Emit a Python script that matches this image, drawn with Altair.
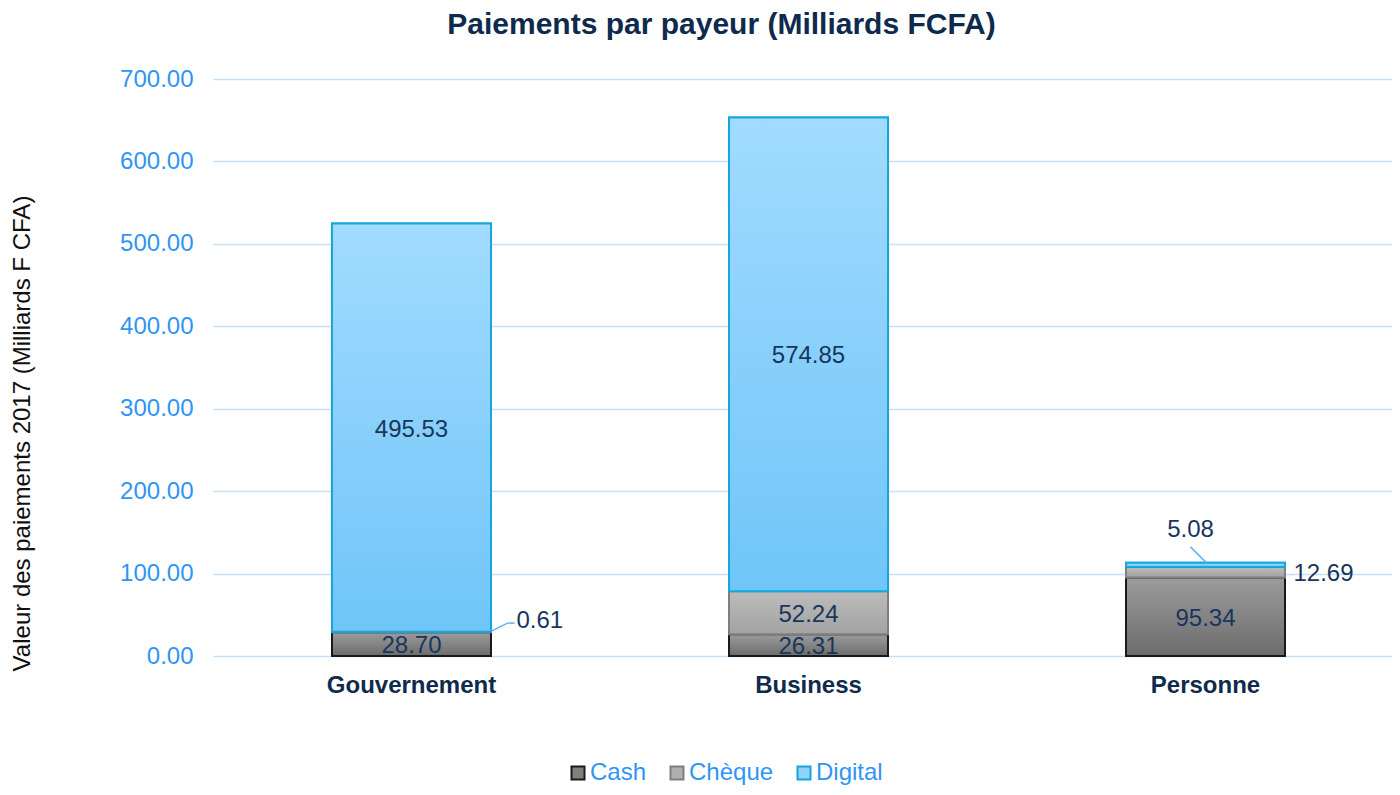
import altair as alt
import pandas as pd

payeurs = ["Gouvernement", "Business", "Personne"]
series = ["Cash", "Chèque", "Digital"]
cash = [28.70, 26.31, 95.34]
cheque = [0.61, 52.24, 12.69]
digital = [495.53, 574.85, 5.08]

rows = []
for i, p in enumerate(payeurs):
    for j, (s, vals) in enumerate(zip(series, [cash, cheque, digital])):
        rows.append({"payeur": p, "serie": s, "ordre": j, "valeur": vals[i]})
df = pd.DataFrame(rows)

LABEL = "#17365d"
NAVY = "#0e2a4c"
AXIS_BLUE = "#2f95f5"
GRID = "#c4e0f8"
FONT = "Liberation Sans"

fills = {
    "Cash": ("#9c9c9c", "#6c6c6c"),
    "Chèque": ("#bcbcbc", "#a2a2a2"),
    "Digital": ("#a2dbff", "#6fc5f8"),
}
strokes = {"Cash": "#1a1a1a", "Chèque": "#7f7f7f", "Digital": "#13a6df"}
flat = {"Cash": "#7f7f7f", "Chèque": "#b0b0b0", "Digital": "#8fd3fb"}

x_enc = alt.X("payeur:N", sort=payeurs, title=None,
              axis=alt.Axis(labelAngle=0, labelFontWeight="bold", labelFontSize=24,
                            labelColor=NAVY, labelPadding=17, domain=False, ticks=False,
                            labelFont=FONT),
              scale=alt.Scale(paddingInner=0, paddingOuter=0, range=[0, 1191]))
y_enc_axis = alt.Axis(format=".2f", values=[0, 100, 200, 300, 400, 500, 600, 700],
                      labelColor=AXIS_BLUE, labelFontSize=24, labelFont=FONT,
                      labelPadding=20, domain=False, ticks=False, gridColor=GRID, gridWidth=1.5,
                      title="Valeur des paiements 2017 (Milliards F CFA)",
                      titleFont=FONT, titleFontSize=24, titleFontWeight="normal",
                      titleColor="#111111", titleAngle=-90, titleAlign="center",
                      titleBaseline="middle", titleX=-191, titleY=354)

base = alt.Chart(df).transform_stack(
    stack="valeur", groupby=["payeur"], as_=["y0", "y1"],
    sort=[alt.SortField("ordre", order="ascending")]
).transform_calculate(mid="(datum.y0 + datum.y1) / 2")

legend_layer = base.mark_bar(size=159, strokeWidth=2).encode(
    x=x_enc,
    y=alt.Y("y1:Q", scale=alt.Scale(domain=[0, 700]), axis=y_enc_axis),
    y2="y0:Q",
    color=alt.Color("serie:N", sort=series, scale=alt.Scale(domain=series, range=[flat[s] for s in series]),
                    legend=alt.Legend(title=None, orient="none", direction="horizontal",
                                      legendX=353, legendY=682, symbolType="square", symbolSize=169,
                                      symbolStrokeWidth=2, labelFontSize=24, labelColor=AXIS_BLUE,
                                      labelFont=FONT, columnPadding=18, labelOffset=0)),
    stroke=alt.Stroke("serie:N", sort=series, scale=alt.Scale(domain=series, range=[strokes[s] for s in series]),
                      legend=None),
)

grad_layers = []
for s in series:
    top, bot = fills[s]
    g = alt.Gradient(gradient="linear", x1=0, x2=0, y1=0, y2=1,
                     stops=[alt.GradientStop(color=top, offset=0), alt.GradientStop(color=bot, offset=1)])
    grad_layers.append(
        base.transform_filter(alt.datum.serie == s).mark_bar(
            size=159, fill=g, stroke=strokes[s], strokeWidth=2
        ).encode(x=alt.X("payeur:N", sort=payeurs), y="y1:Q", y2="y0:Q")
    )

inside = base.transform_filter(alt.datum.valeur >= 20).mark_text(
    fontSize=24, color=LABEL, font=FONT, dy=2
).encode(x=alt.X("payeur:N", sort=payeurs), y="mid:Q", text=alt.Text("valeur:Q", format=".2f"))

def outside(p, s, dx, dy, align):
    return base.transform_filter((alt.datum.payeur == p) & (alt.datum.serie == s)).mark_text(
        fontSize=24, color=LABEL, font=FONT, dx=dx, dy=dy, align=align, baseline="middle"
    ).encode(x=alt.X("payeur:N", sort=payeurs), y="mid:Q", text=alt.Text("valeur:Q", format=".2f"))

def leader(p, s, x1, y1, x2, y2):
    return base.transform_filter((alt.datum.payeur == p) & (alt.datum.serie == s)).mark_rule(
        color="#5ab4f0", strokeWidth=1.5, xOffset=x1, yOffset=y1, x2Offset=x2, y2Offset=y2
    ).encode(x=alt.X("payeur:N", sort=payeurs), x2="payeur:N", y="mid:Q", y2="mid:Q")

labels = [
    outside("Gouvernement", "Chèque", 105, -11, "left"),
    outside("Personne", "Chèque", 88, 2, "left"),
    outside("Personne", "Digital", -15, -35, "center"),
]
leaders = [
    leader("Gouvernement", "Chèque", 80, -1, 96, -9),
    leader("Gouvernement", "Chèque", 96, -9, 103, -9),
    leader("Personne", "Digital", 1, -2, -15, -18),
]

chart = alt.layer(legend_layer, *grad_layers, inside, *labels, *leaders).properties(
    width=1179, height=577,
    autosize=alt.AutoSizeParams(type="none"),
    padding={"left": 205, "top": 71, "right": 0, "bottom": 131},
    title=alt.TitleParams("Paiements par payeur (Milliards FCFA)", fontSize=30, fontWeight="bold",
                          color=NAVY, font=FONT, anchor="middle", dx=-81, offset=27),
).configure_view(stroke=None).configure_axis(grid=True).configure_axisX(grid=False)

chart.save("out.html", embed_options={"renderer": "svg", "actions": False})
